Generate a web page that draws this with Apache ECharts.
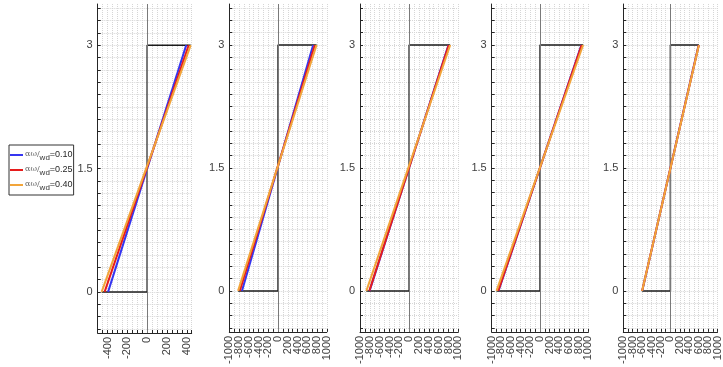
<!DOCTYPE html>
<html>
<head>
<meta charset="utf-8">
<script src="https://cdn.jsdelivr.net/npm/echarts@6/dist/echarts.min.js"></script>
<style>
  html, body { margin: 0; padding: 0; background: #fff; }
  #chart { width: 723px; height: 367px; }
</style>
</head>
<body>
<div id="chart"></div>
<script>
// Ratio labels for the three profiles
const seriesNames = ['=0.10', '=0.25', '=0.40'];
const seriesColors = ['#3535f0', '#e61c1c', '#f2a53a'];

// x value at the bottom (y = 0) and at the top (y = 3) of each profile, one entry per panel
const blueBottom = [-395, -740, -805, -860, -598];
const blueTop = [395, 720, 800, 855, 600];
const redBottom = [-430, -785, -810, -865, -600];
const redTop = [420, 755, 805, 860, 603];
const orangeBottom = [-460, -820, -870, -900, -600];
const orangeTop = [440, 790, 835, 890, 605];

// Reference bracket: y = 0 from its left end to 0, up x = 0, then y = 3 to its right end
const bracketLeft = [-460, -820, -870, -900, -600];
const bracketRight = [440, 790, 835, 890, 605];
const bottomLevel = 0;
const topLevel = 3;

// Axis extents and tick labels
const xMin = [-500, -1000, -1000, -1000, -1000];
const xMax = [450, 1000, 1000, 1000, 1000];
const xStep = [50, 100, 100, 100, 100];
const xLabelStep = 200;
const yLabels = [0, 1.5, 3];
const yMin = -0.5, yMax = 3.5;

// panel placement (px)
const gridLeft = [97.7, 229.3, 360, 491.7, 623.3];
const gridWidth = [94, 97.5, 98.3, 96.7, 95.7];

const yMinorTicks = [];
for (let k = -3; k <= 23; k++) yMinorTicks.push(Math.round(k * 15) / 100);

const font = 'Arial, "Liberation Sans", Helvetica, sans-serif';
const axisColor = '#262626';
const labelColor = '#404040';
const gridColor = '#d6d6d6';

const grids = [], xAxes = [], yAxes = [], series = [];
const profiles = [
  [blueBottom, blueTop],
  [redBottom, redTop],
  [orangeBottom, orangeTop]
];

for (let i = 0; i < 5; i++) {
  grids.push({ left: gridLeft[i], width: gridWidth[i], top: 4, height: 329 });
  xAxes.push({
    type: 'value', gridIndex: i, min: xMin[i], max: xMax[i], interval: xStep[i],
    axisLine: { show: true, onZero: false, lineStyle: { color: axisColor, width: 1 } },
    axisTick: { show: true, inside: true, length: 3, lineStyle: { color: axisColor } },
    axisLabel: {
      interval: 0, rotate: 90, margin: 4, fontSize: 11, color: labelColor, fontFamily: font,
      hideOverlap: false, showMinLabel: true, showMaxLabel: true,
      formatter: v => (Math.round(v) % xLabelStep === 0 ? String(Math.round(v)) : '')
    },
    splitLine: { show: true, lineStyle: { color: gridColor, width: 1, type: [1, 1] } }
  });
  yAxes.push({
    type: 'value', gridIndex: i, min: yMin, max: yMax,
    axisLine: { show: true, onZero: false, lineStyle: { color: axisColor, width: 1 } },
    axisTick: { show: true, inside: true, length: 3, customValues: yMinorTicks, lineStyle: { color: axisColor } },
    axisLabel: {
      customValues: yLabels, margin: 5, fontSize: 11, color: labelColor, fontFamily: font,
      formatter: v => String(v)
    },
    splitLine: { show: true, lineStyle: { color: gridColor, width: 1, type: [1, 1] } }
  });

  // bracket plus the x = 0 reference line
  series.push({
    type: 'line', xAxisIndex: i, yAxisIndex: i, showSymbol: false, symbol: 'none',
    silent: true, z: 3,
    lineStyle: { color: '#1c1c1c', width: 1.5 },
    data: [[bracketLeft[i], bottomLevel], [0, bottomLevel], [0, topLevel], [bracketRight[i], topLevel]],
    markLine: {
      silent: true, symbol: ['none', 'none'], label: { show: false },
      lineStyle: { color: '#7a7a7a', width: 1, type: 'solid' },
      data: [{ xAxis: 0 }]
    }
  });

  profiles.forEach((p, s) => {
    series.push({
      name: seriesNames[s], type: 'line', xAxisIndex: i, yAxisIndex: i,
      showSymbol: false, symbol: 'none', z: 4 + s,
      color: seriesColors[s],
      lineStyle: { color: seriesColors[s], width: 2 },
      data: [[p[0][i], bottomLevel], [p[1][i], topLevel]]
    });
  });
}

const chart = echarts.init(document.getElementById('chart'), null, { renderer: 'canvas' });
chart.setOption({
  animation: false,
  backgroundColor: '#ffffff',
  grid: grids,
  xAxis: xAxes,
  yAxis: yAxes,
  legend: {
    data: seriesNames,
    orient: 'vertical',
    left: 9, top: 145,
    padding: [3, 1, 3, 1],
    itemGap: 1,
    itemWidth: 13, itemHeight: 2,
    icon: 'rect',
    backgroundColor: '#ffffff',
    borderColor: '#333333', borderWidth: 1, borderRadius: 0,
    selectedMode: false,
    formatter: name => '{g|αω/}{s|wd}{n|' + name + '}',
    textStyle: {
      color: '#262626', fontFamily: font, fontSize: 9, padding: [0, 0, 0, -3],
      lineHeight: 14, height: 14,
      rich: {
        g: { fontFamily: '"DejaVu Serif", "Liberation Serif", serif', fontSize: 8, color: '#666666', padding: [0, 0, 2, 0] },
        s: { fontFamily: font, fontSize: 8, color: '#333333', padding: [5, 0, 0, 0] },
        n: { fontFamily: font, fontSize: 9, color: '#262626' }
      }
    }
  },
  series: series
});
</script>
</body>
</html>
